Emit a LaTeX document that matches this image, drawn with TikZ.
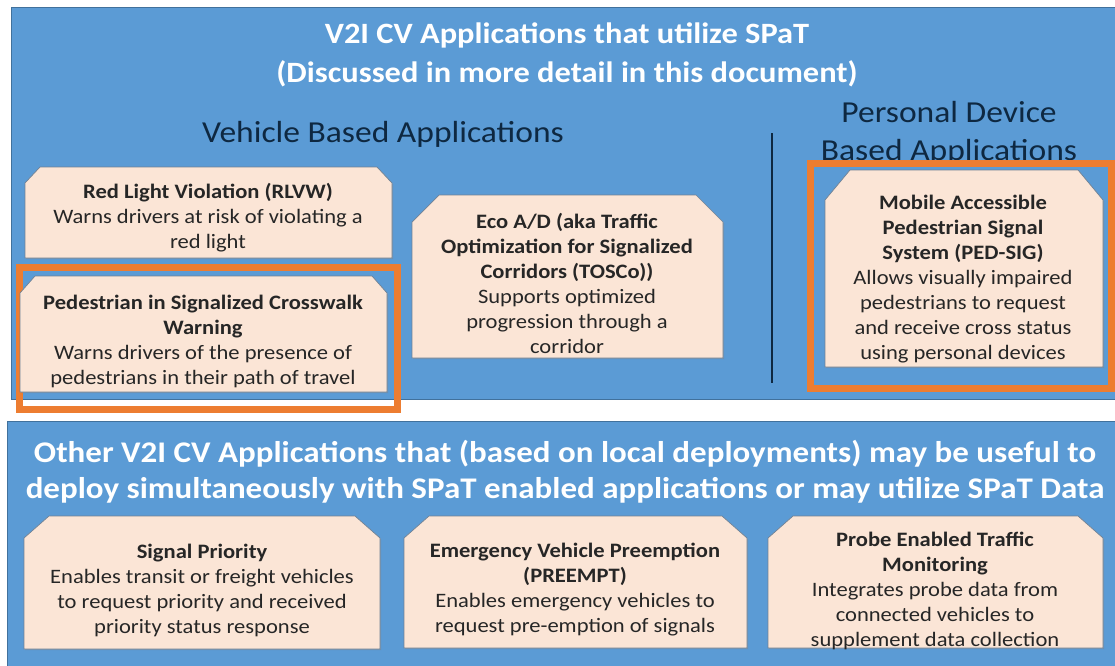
\documentclass[tikz,border=0pt]{standalone}
\usepackage{fontspec}
\setmainfont{Carlito}[FakeStretch=1.1]
\usetikzlibrary{shadows}
\definecolor{panelblue}{HTML}{5B9BD5}
\definecolor{paneledge}{HTML}{41719C}
\definecolor{boxfill}{HTML}{FBE5D6}
\definecolor{boxedge}{HTML}{6F8194}
\definecolor{hiorange}{HTML}{ED7D31}
\definecolor{darktext}{HTML}{0E2841}
\definecolor{bodytext}{HTML}{262626}
% #1 name, #2 x1, #3 y1, #4 x2, #5 y2, #6 horizontal snip, #7 vertical snip
\newcommand{\snipbox}[7]{%
  \path[appbox] (#2+#6,#3) -- (#4-#6,#3) -- (#4,#3+#7) -- (#4,#5) -- (#2,#5) -- (#2,#3+#7) -- cycle;
  \node[inner sep=0pt, outer sep=0pt, anchor=north west, minimum width={(#4-#2)*1pt}, minimum height={(#5-#3)*1pt}] (#1) at (#2,#3) {};%
}
\begin{document}
\begin{tikzpicture}[x=1pt,y=-1pt,
  panel/.style={fill=panelblue,draw=paneledge,line width=1pt},
  appbox/.style={fill=boxfill, draw=boxedge, line width=0.7pt, line join=miter,
    drop shadow={opacity=0.35,shadow xshift=1pt,shadow yshift=-1.2pt}},
  boxtext/.style={align=center, text=bodytext, inner sep=0pt, font=\fontsize{20.5}{25}\selectfont},
  hilite/.style={draw=hiorange, line width=7pt},
  titletext/.style={text=white, font=\bfseries\fontsize{29.5}{39}\selectfont, align=center, inner sep=0pt},
  headtext/.style={text=darktext, font=\fontsize{30.5}{38}\selectfont, align=center, inner sep=0pt},
]
\useasboundingbox (0,0) rectangle (1115,665);
\fill[white] (0,0) rectangle (1115,665);

% panels
\path[panel] (11,7) rectangle (1116,399);
\path[panel] (7,421) rectangle (1116,666);

% top headings
\node[titletext, anchor=base] (title1) at (567,43) {V2I CV Applications that utilize SPaT};
\node[titletext, anchor=base] (title2) at (567,82) {(Discussed in more detail in this document)};
\node[headtext, anchor=base] (vehhead) at (383,142) {Vehicle Based Applications};
\node[headtext, anchor=base] (perhead1) at (949,122) {Personal Device};
\node[headtext, anchor=base] (perhead2) at (949,160) {Based Applications};

% separator
\coordinate (sepTop) at (772,133);
\coordinate (sepBot) at (772,383);
\draw[darktext, line width=1.2pt] (sepTop) -- (sepBot);

% highlight frames
\node[hilite, inner sep=0pt, minimum width=378pt, minimum height=142pt, anchor=north west] (hlA) at (16,264) {};
\node[hilite, inner sep=0pt, minimum width=301pt, minimum height=225pt, anchor=north west] (hlB) at (807,160) {};

% vehicle based boxes
\snipbox{rlvw}{25}{167}{392}{258}{15}{16}
\node[boxtext] (rlvwtxt) at (208,218) {\textbf{Red Light Violation (RLVW)}\\Warns drivers at risk of violating a\\red light};

\snipbox{pedx}{20}{276}{387}{392}{15}{17}
\node[boxtext] (pedxtxt) at (203,341) {\textbf{Pedestrian in Signalized Crosswalk}\\\textbf{Warning}\\Warns drivers of the presence of\\pedestrians in their path of travel};

\snipbox{eco}{412}{195}{723}{358}{27}{27}
\node[boxtext] (ecotxt) at (567,283) {\textbf{Eco A/D (aka Traffic}\\\textbf{Optimization for Signalized}\\\textbf{Corridors (TOSCo))}\\Supports\ optimized\\progression through\ a\\corridor};

% personal device box
\snipbox{pedsig}{825}{170}{1103}{367}{25}{30}
\node[boxtext] (pedsigtxt) at (963,279) {\textbf{Mobile Accessible}\\\textbf{Pedestrian Signal}\\\textbf{System (PED-SIG)}\\Allows visually impaired\\pedestrians to\ request\\and receive cross status\\using personal devices};

% bottom heading
\node[titletext, font=\bfseries\fontsize{30}{37}\selectfont, anchor=base] (other1) at (565,462) {Other V2I CV Applications that (based on local deployments) may be useful to};
\node[titletext, font=\bfseries\fontsize{30}{37}\selectfont, anchor=base] (other2) at (565,498) {deploy simultaneously with SPaT enabled applications or may utilize SPaT Data};

% bottom boxes
\snipbox{sigpri}{24}{516}{380}{649}{25}{22}
\node[boxtext] (sigpritxt) at (202,590) {\textbf{Signal Priority}\\Enables transit or freight vehicles\\to request priority\ and received\\priority\ status response};

\snipbox{preempt}{404}{516}{747}{648}{25}{22}
\node[boxtext] (preempttxt) at (575,590) {\textbf{Emergency Vehicle Preemption}\\\textbf{(PREEMPT)}\\Enables emergency vehicles to\\request pre-emption\ of signals};

\snipbox{probe}{768}{516}{1103}{648}{25}{22}
\node[boxtext] (probetxt) at (935,591) {\textbf{Probe Enabled Traffic}\\\textbf{Monitoring}\\Integrates probe\ data from\\connected\ vehicles to\\supplement\ data collection};
\end{tikzpicture}
\end{document}
